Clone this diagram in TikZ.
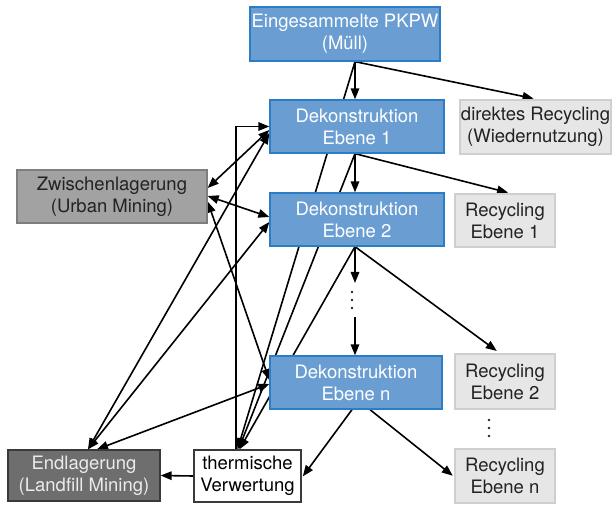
\documentclass[tikz,border=0pt]{standalone}
\usepackage{fontspec}
\setmainfont{TeX Gyre Heros}
\usetikzlibrary{arrows.meta,backgrounds,calc}
\definecolor{bluefill}{HTML}{6A9ED3}
\definecolor{blueline}{HTML}{2B7DC6}
\definecolor{zwfill}{HTML}{A2A2A2}
\definecolor{zwline}{HTML}{7E7E7E}
\definecolor{elfill}{HTML}{6E6E6E}
\definecolor{elline}{HTML}{3A3A3A}
\definecolor{recfill}{HTML}{E6E6E6}
\definecolor{recline}{HTML}{CFCFCF}
\definecolor{txtdark}{HTML}{222222}
\begin{document}
\begin{tikzpicture}[x=1pt,y=-1pt,
  box/.style={rectangle, align=center, inner sep=0pt, line width=1.3pt,
    font=\fontsize{18.5}{22}\selectfont},
  blue/.style={box, fill=bluefill, draw=blueline, text=white},
  zwbox/.style={box, fill=zwfill, draw=zwline, text=txtdark},
  elbox/.style={box, fill=elfill, draw=elline, text=white!92!black},
  recbox/.style={box, fill=recfill, draw=recline, text=txtdark},
  tvbox/.style={box, fill=white, draw=elline, text=black},
  arr/.style={-{Triangle[length=11pt,width=8.5pt]}, line width=1.6pt, black},
  darr/.style={{Triangle[length=11pt,width=8.5pt]}-{Triangle[length=11pt,width=8.5pt]}, line width=1.6pt, black},
  dotmark/.style={fill=txtdark}
]
\useasboundingbox (0,0) rectangle (616,505);

% nodes
\node[blue, minimum width=190pt, minimum height=54pt] (pkpw) at (345,34) {Eingesammelte PKPW\\(Müll)};
\node[blue, minimum width=174pt, minimum height=53pt] (d1) at (357,126.5) {Dekonstruktion\\Ebene 1};
\node[blue, minimum width=174pt, minimum height=53pt] (d2) at (357,219.5) {Dekonstruktion\\Ebene 2};
\node[blue, minimum width=172pt, minimum height=53pt] (dn) at (356,382.5) {Dekonstruktion\\Ebene n};
\node[zwbox, minimum width=190pt, minimum height=53pt] (zw) at (112,196.5) {Zwischenlagerung\\(Urban Mining)};
\node[elbox, minimum width=152pt, minimum height=51pt] (el) at (84,475.5) {Endlagerung\\(Landfill Mining)};
\node[tvbox, minimum width=107pt, minimum height=52pt] (tv) at (247.5,476) {thermische\\Verwertung};
\node[recbox, minimum width=151pt, minimum height=54pt] (dr) at (535.5,127) {direktes Recycling\\(Wiedernutzung)};
\node[recbox, minimum width=100pt, minimum height=53pt] (r1) at (505,220.5) {Recycling\\Ebene 1};
\node[recbox, minimum width=100pt, minimum height=55pt] (r2) at (505,381.5) {Recycling\\Ebene 2};
\node[recbox, minimum width=100pt, minimum height=54pt] (rn) at (505,476) {Recycling\\Ebene n};
\coordinate (g1) at (355,283);
\coordinate (g2) at (355,317);
\coordinate (dots1) at (352,300);
\coordinate (dots2) at (489,428);

% vertical ellipses
\foreach \dy in {-8,0,8} {
  \fill[dotmark] ($(dots1)+(0,\dy)$) circle (1.3pt);
  \fill[dotmark] ($(dots2)+(0,\dy)$) circle (1.3pt);
}

\begin{scope}[on background layer]
% from PKPW
\draw[arr] ([xshift=10pt]pkpw.south) -- ([xshift=-2pt]d1.north);
\draw[arr, shorten >=4pt] ([xshift=10pt]pkpw.south) -- ([xshift=2pt]dr.north);
\draw[arr] ([xshift=10pt]pkpw.south) -- ([xshift=-10pt]tv.north);
% from Deko 1
\draw[arr] ([xshift=-2pt]d1.south) -- ([xshift=-2pt]d2.north);
\draw[arr, shorten >=3pt] ([xshift=-2pt]d1.south) -- ([xshift=6pt]r1.north);
\draw[arr] ([xshift=-2pt]d1.south) -- ([xshift=-9pt]tv.north);
% from Deko 2
\draw[arr] ([xshift=-2pt]d2.south) -- (g1);
\draw[arr] (g2) -- ([xshift=-1pt]dn.north);
\draw[arr, shorten >=4pt] ([xshift=-2pt]d2.south) -- ([xshift=-5pt]r2.north);
\draw[arr] ([xshift=-2pt]d2.south) -- ([xshift=-8pt]tv.north);
% from Deko n
\draw[arr, shorten >=2pt] ([xshift=-4pt]dn.south) -- ([yshift=-2pt]tv.east);
\draw[arr, shorten >=2pt] ([xshift=14pt]dn.south) -- ([yshift=-1pt]rn.west);
% thermische
\draw[arr] (tv.west) -- (el.east);
\draw[arr] ([xshift=-11.5pt]tv.north) |- (d1.west);
% Zwischenlagerung
\draw[darr] ([yshift=8.5pt]zw.east) -- ([yshift=-3.5pt]d1.west);
\draw[darr] ([yshift=0.5pt]zw.east) -- ([yshift=2.5pt]d2.west);
\draw[darr] ([yshift=-5pt]zw.east) -- ([yshift=2.5pt]dn.west);
% Endlagerung
\draw[darr] ([xshift=4pt]el.north) -- ([yshift=-6.5pt]d1.west);
\draw[darr] ([xshift=4pt]el.north) -- ([yshift=-2.5pt]d2.west);
\draw[darr] ([xshift=13pt]el.north) -- ([yshift=-1.5pt]dn.west);
\end{scope}
\end{tikzpicture}
\end{document}
